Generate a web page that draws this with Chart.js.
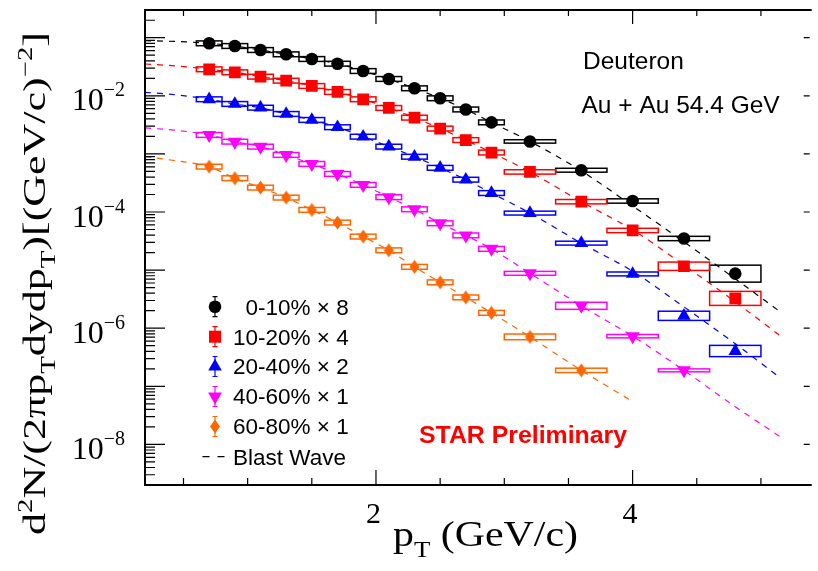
<!DOCTYPE html>
<html>
<head>
<meta charset="utf-8">
<script src="https://cdn.jsdelivr.net/npm/chart.js@4.4.0/dist/chart.umd.min.js"></script>
<style>
  html, body { margin: 0; padding: 0; background: #fff; }
  #wrap { width: 818px; height: 571px; }
</style>
</head>
<body>
<div id="wrap"><canvas id="spectra"></canvas></div>
<script>
// pT bin centres (GeV/c) and half widths of the systematic boxes
const ptBins = [0.7, 0.9, 1.1, 1.3, 1.5, 1.7, 1.9, 2.1, 2.3, 2.5, 2.7, 2.9, 3.2, 3.6, 4.0, 4.4, 4.8];
const binHalfWidth = [0.1, 0.1, 0.1, 0.1, 0.1, 0.1, 0.1, 0.1, 0.1, 0.1, 0.1, 0.1, 0.2, 0.2, 0.2, 0.2, 0.2];

// deuteron spectra, already scaled as in the legend
const cent0010 = [0.0801, 0.0720, 0.0614, 0.0518, 0.0430, 0.0357, 0.0267, 0.0195, 0.01348, 0.00907, 0.00582, 0.00349, 0.00164, 5.24e-4, 1.547e-4, 3.50e-5, 8.69e-6];
const cent1020 = [0.02861, 0.02541, 0.02135, 0.01821, 0.01476, 0.01164, 0.00872, 0.00618, 0.00421, 0.00273, 0.00173, 0.001056, 4.90e-4, 1.505e-4, 4.81e-5, 1.165e-5, 3.26e-6];
const cent2040 = [0.00872, 0.00724, 0.00625, 0.00487, 0.00384, 0.00288, 0.00198, 0.001334, 8.94e-4, 5.76e-4, 3.60e-4, 2.12e-4, 9.58e-5, 2.91e-5, 8.59e-6, 1.634e-6, 4.05e-7];
const cent4060 = [0.00212, 0.001626, 0.001334, 9.60e-4, 6.73e-4, 4.52e-4, 2.93e-4, 1.80e-4, 1.114e-4, 6.40e-5, 3.96e-5, 2.32e-5, 8.80e-6, 2.43e-6, 7.29e-7, 1.88e-7];
const cent6080 = [6.04e-4, 3.82e-4, 2.63e-4, 1.77e-4, 1.088e-4, 6.58e-5, 3.78e-5, 2.19e-5, 1.138e-5, 6.16e-6, 3.39e-6, 1.840e-6, 7.09e-7, 1.88e-7];

// relative systematic uncertainties (box half height, log-symmetric)
const sys0010 = [0.10, 0.10, 0.10, 0.10, 0.10, 0.10, 0.10, 0.10, 0.10, 0.10, 0.10, 0.10, 0.07, 0.08, 0.09, 0.09, 0.40];
const sys1020 = [0.10, 0.10, 0.10, 0.10, 0.10, 0.10, 0.10, 0.10, 0.10, 0.10, 0.10, 0.10, 0.09, 0.09, 0.09, 0.18, 0.32];
const sys2040 = [0.10, 0.10, 0.10, 0.10, 0.10, 0.10, 0.10, 0.10, 0.10, 0.10, 0.10, 0.10, 0.08, 0.08, 0.08, 0.20, 0.25];
const sys4060 = [0.10, 0.10, 0.10, 0.10, 0.10, 0.10, 0.10, 0.10, 0.10, 0.10, 0.10, 0.10, 0.08, 0.15, 0.07, 0.06];
const sys6080 = [0.10, 0.10, 0.10, 0.10, 0.10, 0.10, 0.10, 0.10, 0.10, 0.10, 0.10, 0.10, 0.12, 0.09];

// blast wave fits
const bwX = [0.2, 0.45, 0.7, 0.9, 1.1, 1.3, 1.5, 1.7, 1.9, 2.1, 2.3, 2.5, 2.7, 2.9, 3.2, 3.6, 4.0, 4.4, 4.8, 5.15];
const bw0010 = [0.0888, 0.0861, 0.0801, 0.0720, 0.0614, 0.0518, 0.0430, 0.0357, 0.0267, 0.0195, 0.01348, 0.00907, 0.00582, 0.00349, 0.00164, 5.10e-4, 1.274e-4, 3.06e-5, 7.07e-6, 1.915e-6];
const bw1020 = [0.0353, 0.0326, 0.02861, 0.02541, 0.02135, 0.01821, 0.01476, 0.01164, 0.00872, 0.00618, 0.00421, 0.00273, 0.00173, 0.001056, 4.90e-4, 1.505e-4, 4.93e-5, 1.217e-5, 2.84e-6, 7.40e-7];
const bw2040 = [0.0115, 0.01034, 0.00872, 0.00724, 0.00625, 0.00487, 0.00384, 0.00288, 0.00198, 0.001334, 8.94e-4, 5.76e-4, 3.60e-4, 2.12e-4, 9.58e-5, 2.91e-5, 9.52e-6, 2.33e-6, 5.40e-7, 1.40e-7];
const bw4060 = [0.0028, 0.00254, 0.00212, 0.001626, 0.001334, 9.60e-4, 6.73e-4, 4.52e-4, 2.93e-4, 1.80e-4, 1.114e-4, 6.40e-5, 3.96e-5, 2.32e-5, 8.80e-6, 2.43e-6, 7.29e-7, 1.88e-7, 4.45e-8, 1.355e-8];
const bw6080 = [8.98e-4, 7.57e-4, 6.04e-4, 3.82e-4, 2.63e-4, 1.77e-4, 1.088e-4, 6.58e-5, 3.78e-5, 2.19e-5, 1.138e-5, 6.16e-6, 3.39e-6, 1.840e-6, 7.09e-7, 1.88e-7, 5.48e-8];

const seriesLabels = ["  0-10% \u00d7 8", "10-20% \u00d7 4", "20-40% \u00d7 2", "40-60% \u00d7 1", "60-80% \u00d7 1"];
const seriesColors = ["#000000", "#ff0000", "#0000ff", "#ff00ff", "#ff6600"];
const bwLabel = "Blast Wave";

// axis ticks
const xMajorTicks = [2, 4];
const xMinorTicks = [0.5, 1, 1.5, 2.5, 3, 3.5, 4.5, 5];
const yLabelExponents = [-2, -4, -6, -8];

const SERIF = '"Liberation Serif", "DejaVu Serif", serif';
const SANS = '"Liberation Sans", Arial, "DejaVu Sans", sans-serif';

// thin vertical diamond (ROOT marker 33)
function makeDiamond(color) {
    const c = document.createElement("canvas");
    c.width = 11; c.height = 15;
    const g = c.getContext("2d");
    g.fillStyle = color;
    g.beginPath();
    g.moveTo(5.5, 0.5); g.lineTo(10.5, 7.5); g.lineTo(5.5, 14.5); g.lineTo(0.5, 7.5);
    g.closePath(); g.fill();
    return c;
}

const markers = [
    { pointStyle: "circle", radius: 6.3, rotation: 0 },
    { pointStyle: "rect", radius: 8.3, rotation: 0 },
    { pointStyle: "triangle", radius: 7.8, rotation: 0 },
    { pointStyle: "triangle", radius: 8, rotation: 180 },
    { pointStyle: makeDiamond(seriesColors[4]), radius: 7, rotation: 0 },
];

const spectra = [cent0010, cent1020, cent2040, cent4060, cent6080];
const sysErr = [sys0010, sys1020, sys2040, sys4060, sys6080];
const fits = [bw0010, bw1020, bw2040, bw4060, bw6080];

const datasets = [];
spectra.forEach((vals, i) => {
    datasets.push({
        label: seriesLabels[i],
        data: vals.map((v, j) => ({ x: ptBins[j], y: v })),
        sys: sysErr[i],
        showLine: false,
        pointStyle: markers[i].pointStyle,
        pointRadius: markers[i].radius,
        pointRotation: markers[i].rotation,
        backgroundColor: seriesColors[i],
        borderColor: seriesColors[i],
        borderWidth: 0,
        order: 1,
    });
});
fits.forEach((vals, i) => {
    datasets.push({
        label: bwLabel,
        data: vals.map((v, j) => ({ x: bwX[j], y: v })),
        showLine: true,
        pointRadius: 0,
        borderColor: seriesColors[i],
        borderWidth: 1.2,
        borderDash: [6, 6],
        cubicInterpolationMode: "monotone",
        order: 2,
    });
});

// text made of pieces (sub/superscripts), optionally stretched to a width
function richText(ctx, parts, x, y, align, targetW) {
    let w = 0;
    parts.forEach(p => { ctx.font = p.font; p.w = ctx.measureText(p.t).width; w += p.w; });
    const sx = targetW ? targetW / w : 1;
    ctx.save();
    ctx.translate(x, y);
    ctx.scale(sx, 1);
    let cx = align === "center" ? -w / 2 : align === "right" ? -w : 0;
    ctx.textAlign = "left";
    ctx.textBaseline = "alphabetic";
    parts.forEach(p => { ctx.font = p.font; ctx.fillText(p.t, cx, p.dy || 0); cx += p.w; });
    ctx.restore();
}

function legendMarker(ctx, i, x, y) {
    const col = seriesColors[i];
    ctx.save();
    ctx.strokeStyle = col; ctx.fillStyle = col; ctx.lineWidth = 1.2;
    ctx.beginPath();
    ctx.moveTo(x, y - 10); ctx.lineTo(x, y + 10);
    ctx.moveTo(x - 2.5, y - 10); ctx.lineTo(x + 2.5, y - 10);
    ctx.moveTo(x - 2.5, y + 10); ctx.lineTo(x + 2.5, y + 10);
    ctx.stroke();
    ctx.beginPath();
    if (i === 0) {
        ctx.arc(x, y, 6.3, 0, Math.PI * 2);
    } else if (i === 1) {
        ctx.rect(x - 6, y - 6, 12, 12);
    } else if (i === 2) {
        ctx.moveTo(x, y - 7.8); ctx.lineTo(x + 6.8, y + 3.9); ctx.lineTo(x - 6.8, y + 3.9);
    } else if (i === 3) {
        ctx.moveTo(x, y + 8); ctx.lineTo(x + 6.9, y - 4); ctx.lineTo(x - 6.9, y - 4);
    } else {
        ctx.moveTo(x, y - 7); ctx.lineTo(x + 5, y); ctx.lineTo(x, y + 7); ctx.lineTo(x - 5, y);
    }
    ctx.closePath();
    ctx.fill();
    ctx.restore();
}

const sysBoxes = {
    id: "sysBoxes",
    beforeDatasetsDraw(chart) {
        const { ctx, chartArea, scales: { x, y } } = chart;
        ctx.save();
        ctx.beginPath();
        ctx.rect(chartArea.left, chartArea.top, chartArea.right - chartArea.left, chartArea.bottom - chartArea.top);
        ctx.clip();
        ctx.lineWidth = 1.5;
        chart.data.datasets.forEach(ds => {
            if (!ds.sys) return;
            ctx.strokeStyle = ds.borderColor;
            ds.data.forEach((p, j) => {
                const f = 1 + ds.sys[j];
                const x0 = x.getPixelForValue(p.x - binHalfWidth[j]);
                const x1 = x.getPixelForValue(p.x + binHalfWidth[j]);
                const y0 = y.getPixelForValue(p.y * f);
                const y1 = y.getPixelForValue(p.y / f);
                ctx.strokeRect(x0, y0, x1 - x0, y1 - y0);
            });
        });
        ctx.restore();
    }
};

const frameAndText = {
    id: "frameAndText",
    afterDraw(chart) {
        const { ctx, chartArea: a, scales: { x, y } } = chart;
        ctx.save();
        ctx.strokeStyle = "#000";
        ctx.fillStyle = "#000";

        // frame
        ctx.lineWidth = 2;
        ctx.beginPath();
        ctx.moveTo(a.right + 2, a.top); ctx.lineTo(a.left, a.top);
        ctx.lineTo(a.left, a.bottom); ctx.lineTo(a.right + 2, a.bottom);
        ctx.stroke();

        // ticks
        ctx.lineWidth = 1.2;
        ctx.beginPath();
        xMajorTicks.forEach(t => {
            const px = x.getPixelForValue(t);
            ctx.moveTo(px, a.bottom); ctx.lineTo(px, a.bottom - 15);
            ctx.moveTo(px, a.top); ctx.lineTo(px, a.top + 14);
        });
        xMinorTicks.forEach(t => {
            const px = x.getPixelForValue(t);
            ctx.moveTo(px, a.bottom); ctx.lineTo(px, a.bottom - 7);
            ctx.moveTo(px, a.top); ctx.lineTo(px, a.top + 6);
        });
        for (let e = -9; e <= -1; e++) {
            for (let m = 1; m <= 9; m++) {
                const v = m * Math.pow(10, e);
                if (v < y.min || v > y.max) continue;
                const py = y.getPixelForValue(v);
                const len = m === 1 ? 20 : 10;
                ctx.moveTo(a.left, py); ctx.lineTo(a.left + len, py);
                if (m === 1) { ctx.moveTo(a.right, py); ctx.lineTo(a.right - 6, py); }
            }
        }
        ctx.stroke();

        // tick labels
        yLabelExponents.forEach(e => {
            const py = y.getPixelForValue(Math.pow(10, e));
            richText(ctx, [
                { t: "10", font: "32px " + SERIF },
                { t: "\u2212" + (-e), font: "20px " + SERIF, dy: -14 },
            ], 125, py + 14.5, "right");
        });
        ctx.font = "30px " + SERIF;
        ctx.textAlign = "center";
        ctx.textBaseline = "alphabetic";
        xMajorTicks.forEach(t => ctx.fillText(String(t), x.getPixelForValue(t) - 2.5, 523));

        // axis titles
        richText(ctx, [
            { t: "p", font: "36px " + SERIF },
            { t: "T", font: "23px " + SERIF, dy: 11 },
            { t: " (GeV/c)", font: "36px " + SERIF },
        ], 393, 545.7, "left", 185);

        ctx.save();
        ctx.translate(45, 283.5);
        ctx.rotate(-Math.PI / 2);
        const F = 32, f = "px " + SERIF;
        richText(ctx, [
            { t: "d", font: F + f },
            { t: "2", font: Math.round(F * 0.65) + f, dy: -13 },
            { t: "N/(2\u03c0p", font: F + f },
            { t: "T", font: Math.round(F * 0.65) + f, dy: 10 },
            { t: "dydp", font: F + f },
            { t: "T", font: Math.round(F * 0.65) + f, dy: 10 },
            { t: ")[(GeV/c)", font: F + f },
            { t: "\u22122", font: Math.round(F * 0.65) + f, dy: -13 },
            { t: "]", font: F + f },
        ], 0, 0, "center", 503);
        ctx.restore();

        // annotations
        ctx.textAlign = "left";
        ctx.font = "24.5px " + SANS;
        ctx.fillText("Deuteron", 583, 69.3);
        ctx.fillText("Au + Au 54.4 GeV", 581.5, 112.7);
        ctx.fillStyle = "#ff0000";
        richText(ctx, [{ t: "STAR Preliminary", font: "bold 23px " + SANS }], 419, 443, "left", 208);

        // legend
        ctx.fillStyle = "#000";
        ctx.font = "22.5px " + SANS;
        const rowY = [306.7, 336.7, 366.5, 396.5, 426.5];
        seriesLabels.forEach((lab, i) => {
            legendMarker(ctx, i, 215, rowY[i]);
            ctx.fillStyle = "#000";
            ctx.fillText(lab, 233, rowY[i] + 7.8);
        });
        ctx.lineWidth = 1.2;
        ctx.setLineDash([7, 8]);
        ctx.beginPath();
        ctx.moveTo(202.5, 456.7); ctx.lineTo(226, 456.7);
        ctx.stroke();
        ctx.setLineDash([]);
        ctx.fillText(bwLabel, 233, 456.7 + 7.8);

        ctx.restore();
    }
};

new Chart(document.getElementById("spectra"), {
    type: "scatter",
    data: { datasets },
    options: {
        responsive: true,
        maintainAspectRatio: false,
        devicePixelRatio: 1,
        animation: false,
        layout: { padding: { left: 145, top: 10, right: 0, bottom: 86 } },
        plugins: { legend: { display: false }, tooltip: { enabled: false } },
        scales: {
            x: { type: "linear", min: 0.2, max: 5.38, display: false },
            y: { type: "logarithmic", min: 2e-9, max: 0.3, display: false },
        },
    },
    plugins: [sysBoxes, frameAndText],
});
</script>
</body>
</html>
